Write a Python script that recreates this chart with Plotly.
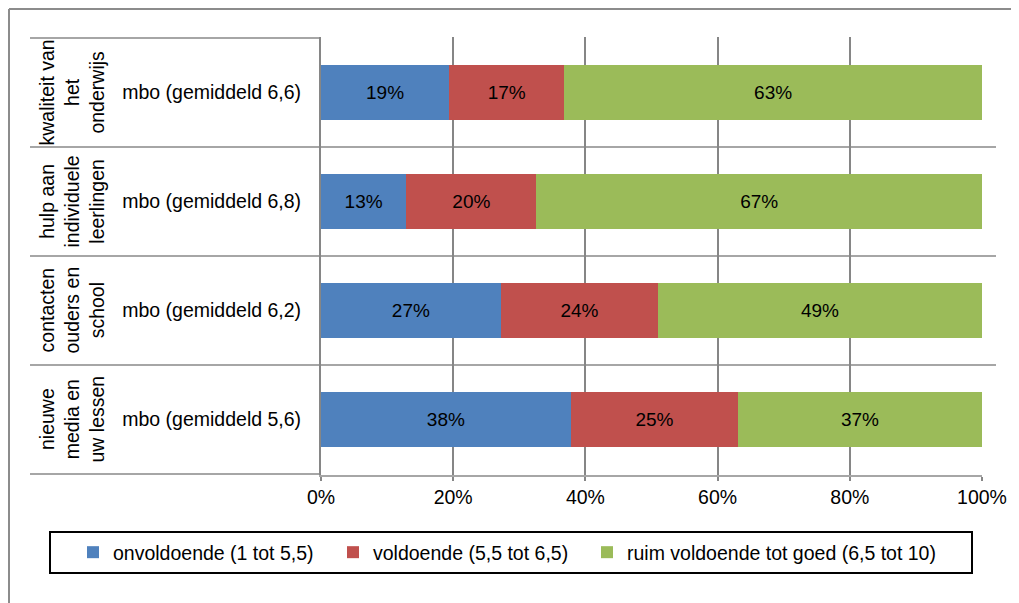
import plotly.graph_objects as go

# data
groups = ["kwaliteit van het onderwijs", "hulp aan individuele leerlingen",
          "contacten ouders en school", "nieuwe media en uw lessen"]
group_labels = ["kwaliteit van<br>het<br>onderwijs", "hulp aan<br>individuele<br>leerlingen",
                "contacten<br>ouders en<br>school", "nieuwe<br>media en<br>uw lessen"]
sub_labels = ["mbo (gemiddeld 6,6)", "mbo (gemiddeld 6,8)",
              "mbo (gemiddeld 6,2)", "mbo (gemiddeld 5,6)"]

onvoldoende = [19.4, 12.9, 27.2, 37.8]
voldoende = [17.4, 19.7, 23.8, 25.3]
ruim_voldoende = [63.2, 67.4, 49.0, 36.9]

x_ticks = [0, 20, 40, 60, 80, 100]
x_tick_labels = ["0%", "20%", "40%", "60%", "80%", "100%"]

series = [
    ("onvoldoende (1 tot 5,5)", onvoldoende, "#4F81BD"),
    ("voldoende (5,5 tot 6,5)", voldoende, "#C0504D"),
    ("ruim voldoende tot goed (6,5 tot 10)", ruim_voldoende, "#9BBB59"),
]

FONT = "Liberation Sans, Arial, sans-serif"
OFF = 8  # page body margin
W, H = 1019 - OFF, 603 - OFF
L, R, T, B = 321 - OFF, 37, 37 - OFF, 128
PW, PH = W - L - R, H - T - B


def px_x(px):
    # page pixel -> paper x
    return (px - OFF - L) / PW


def px_y(py):
    # page pixel -> paper y
    return (H - B - (py - OFF)) / PH


fig = go.Figure()
legend_ids = ["legend", "legend2", "legend3"]
for (name, vals, col), lg in zip(series, legend_ids):
    fig.add_trace(go.Bar(
        name=name, y=groups, x=vals, orientation="h", legend=lg,
        marker=dict(color=col, line=dict(width=0)),
        texttemplate="%{x:.0f}%", textposition="inside",
        insidetextanchor="middle",
        textfont=dict(color="black", size=19, family=FONT),
        hovertemplate="%{x:.0f}%<extra>" + name + "</extra>",
    ))

shapes = []
line_col = "#A6A6A6"
n = len(groups)
for i in range(n + 1):
    b = i - 0.5
    x1 = px_x(996) if 0 < i < n else 0
    shapes.append(dict(type="line", xref="paper", yref="y", x0=px_x(30), x1=x1,
                       y0=b, y1=b, line=dict(color=line_col, width=2), layer="below"))
# outer chart border (left and top visible)
shapes.append(dict(type="line", xref="paper", yref="paper", x0=px_x(9), x1=px_x(1030),
                   y0=px_y(9), y1=px_y(9), line=dict(color="#8C8C8C", width=2)))
shapes.append(dict(type="line", xref="paper", yref="paper", x0=px_x(9), x1=px_x(9),
                   y0=px_y(9), y1=px_y(620), line=dict(color="#8C8C8C", width=2)))
# legend frame
shapes.append(dict(type="rect", xref="paper", yref="paper", x0=px_x(50), x1=px_x(972),
                   y0=px_y(532), y1=px_y(573), line=dict(color="black", width=2)))

annotations = []
for g, lab in zip(groups, group_labels):
    annotations.append(dict(x=px_x(72), y=g, xref="paper", yref="y", text=lab,
                            textangle=-90, showarrow=False, align="center",
                            xanchor="center", yanchor="middle",
                            font=dict(size=19.5, family=FONT, color="black")))

legends = {}
for lg, sq in zip(legend_ids, [93, 353, 607]):
    legends[lg] = dict(orientation="h", x=px_x(sq - 6 - 22 + OFF), xanchor="left",
                       y=px_y(552.5), yanchor="middle",
                       bgcolor="rgba(0,0,0,0)", borderwidth=0,
                       font=dict(size=19.5, family=FONT, color="black"))

fig.update_layout(
    width=W, height=H,
    margin=dict(l=L, r=R, t=T, b=B, autoexpand=False),
    barmode="stack", bargap=0.49,
    plot_bgcolor="white", paper_bgcolor="white",
    font=dict(family=FONT, size=19.5, color="black"),
    shapes=shapes, annotations=annotations,
    showlegend=True,
    xaxis=dict(range=[0, 100], tickvals=x_ticks, ticktext=x_tick_labels,
               showgrid=True, gridcolor="#868686", gridwidth=2, zeroline=False,
               showline=True, linecolor=line_col, linewidth=2,
               ticks="outside", ticklen=4, tickwidth=2, tickcolor="#868686",
               tickfont=dict(size=19.5, family=FONT, color="black")),
    yaxis=dict(autorange="reversed", tickvals=groups, ticktext=sub_labels,
               showgrid=False, zeroline=False, showline=True, linecolor="#868686",
               linewidth=2, ticks="", ticklabelstandoff=14,
               tickfont=dict(size=19.5, family=FONT, color="black")),
    **legends,
)

fig.write_html("out.html")
